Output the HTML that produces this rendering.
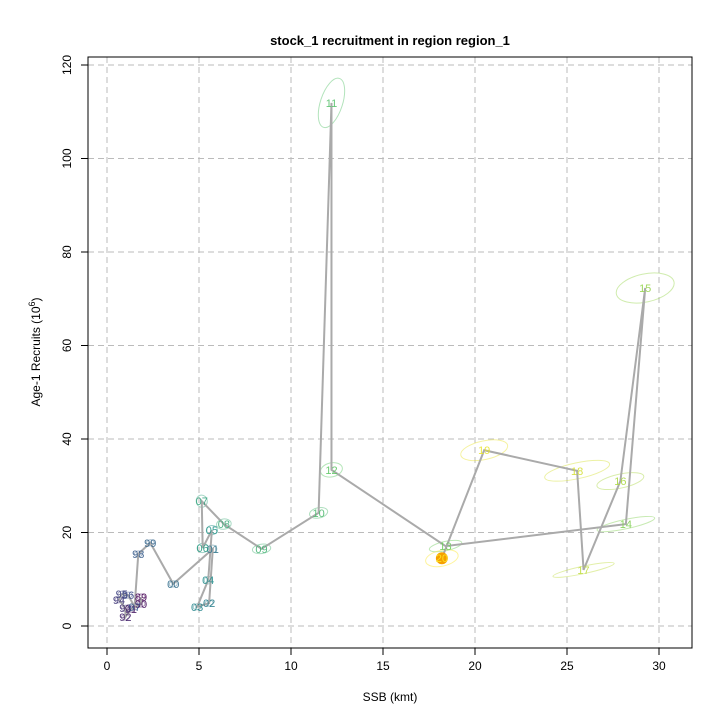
<!DOCTYPE html>
<html><head><meta charset="utf-8"><style>
body{margin:0;background:#fff;}
svg{display:block;font-family:"Liberation Sans",Arial,sans-serif;}
</style></head><body>
<svg id="c" width="720" height="720">
<text x="390" y="45" text-anchor="middle" font-size="13" font-weight="bold">stock_1 recruitment in region region_1</text>
<text x="390" y="701" text-anchor="middle" font-size="12">SSB (kmt)</text>
<text transform="translate(40,352) rotate(-90)" text-anchor="middle" font-size="12">Age-1 Recruits (10<tspan dy="-5" font-size="9">6</tspan><tspan dy="5">)</tspan></text>
<g id="grid"></g><g id="axes"></g><g id="ell"></g><g id="path"></g><g id="lab"></g>
<rect x="88" y="57" width="604" height="591" fill="none" stroke="#000"/>
</svg>
<script>
const years=["89","90","91","92","93","94","95","96","97","98","99","00","01","02","03","04","05","06","07","08","09","10","11","12","13","14","15","16","17","18","19","20"];
const ssb=[1.85,1.85,1.3,1.0,1.0,0.65,0.8,1.15,1.5,1.7,2.35,3.6,5.75,5.55,4.9,5.5,5.7,5.2,5.15,6.35,8.4,11.5,12.2,12.2,18.4,28.2,29.25,27.9,25.9,25.55,20.5,18.2];
const rec=[6.2,4.7,3.6,1.9,3.8,5.6,6.8,6.6,4.1,15.4,17.8,9.0,16.5,4.9,4.1,9.8,20.5,16.7,26.7,21.8,16.5,24.2,111.9,33.4,17.1,21.8,72.3,31.0,12.0,33.2,37.6,14.5];
const ssbSd=[0.1,0.1,0.1,0.1,0.1,0.1,0.1,0.1,0.1,0.1,0.1,0.1,0.2,0.2,0.2,0.2,0.3,0.3,0.3,0.4,0.5,0.5,0.6,0.6,0.9,1.6,1.6,1.3,1.7,1.8,1.3,0.9];
const recSd=[0.5,0.5,0.5,0.5,0.5,0.5,0.5,0.5,0.5,0.6,0.6,0.6,0.8,0.6,0.6,0.8,1.0,1.0,1.3,1.1,1.0,1.1,5.5,1.5,1.0,1.0,3.0,1.5,0.8,1.7,2.0,1.7];
const xTicks=[0,5,10,15,20,25,30], yTicks=[0,20,40,60,80,100,120];
const X=v=>107+18.4*v, Y=v=>626-4.675*v;
const NS="http://www.w3.org/2000/svg";
function mk(t,a,p){const e=document.createElementNS(NS,t);for(const k in a)e.setAttribute(k,a[k]);p.appendChild(e);return e;}
const stops=[[68,1,84],[59,82,139],[33,145,140],[94,201,98],[253,231,37]];
function vir(t){const s=t*(stops.length-1),i=Math.min(Math.floor(s),stops.length-2),f=s-i;const c=stops[i].map((v,k)=>Math.round(v+(stops[i+1][k]-v)*f));return `rgb(${c})`;}
const g=document.getElementById('grid'),ax=document.getElementById('axes');
xTicks.forEach(v=>{
 const l=mk('line',{x1:X(v),x2:X(v),y1:57,y2:648,stroke:'#bbb','stroke-dasharray':'6,4'},g);
 
 
 mk('line',{x1:X(v),x2:X(v),y1:648,y2:655,stroke:'#000'},ax);
 const t=mk('text',{x:X(v),y:670,'text-anchor':'middle','font-size':12},ax);t.textContent=v;
 
 
});
yTicks.forEach(v=>{
 const l=mk('line',{y1:Y(v),y2:Y(v),x1:88,x2:692,stroke:'#bbb','stroke-dasharray':'6,4'},g);
 
 
 mk('line',{y1:Y(v),y2:Y(v),x1:81,x2:88,stroke:'#000'},ax);
 const t=mk('text',{transform:`translate(71,${Y(v)}) rotate(-90)`,'text-anchor':'middle','font-size':12},ax);t.textContent=v;
 
 
});
const n=years.length;
const el=document.getElementById('ell'),pg=document.getElementById('path'),lg=document.getElementById('lab');
years.forEach((y,i)=>{
 const c=vir(i/(n-1));
 const rot=(y==="11")?18:(i>20?-12:-8);
 const e=mk('ellipse',{cx:X(ssb[i]),cy:Y(rec[i]),rx:Math.max(4,ssbSd[i]*18.4),ry:Math.max(3,recSd[i]*4.675),fill:'none',stroke:c,'stroke-opacity':0.45,transform:`rotate(${rot} ${X(ssb[i])} ${Y(rec[i])})`},el);
 
 
});
const pts=ssb.map((v,i)=>X(v)+','+Y(rec[i])).join(' ');
const pl=mk('polyline',{points:pts,fill:'none',stroke:'#aaa','stroke-width':2},pg);


const last=mk('circle',{cx:X(ssb[n-1]),cy:Y(rec[n-1]),r:6,fill:'#f5a000'},pg);


years.forEach((y,i)=>{
 const t=mk('text',{x:X(ssb[i]),y:Y(rec[i])+4,'text-anchor':'middle','font-size':11,fill:vir(i/(n-1)),'fill-opacity':0.9},lg);
 t.textContent=y;
 
 
});
</script>
</body></html>
